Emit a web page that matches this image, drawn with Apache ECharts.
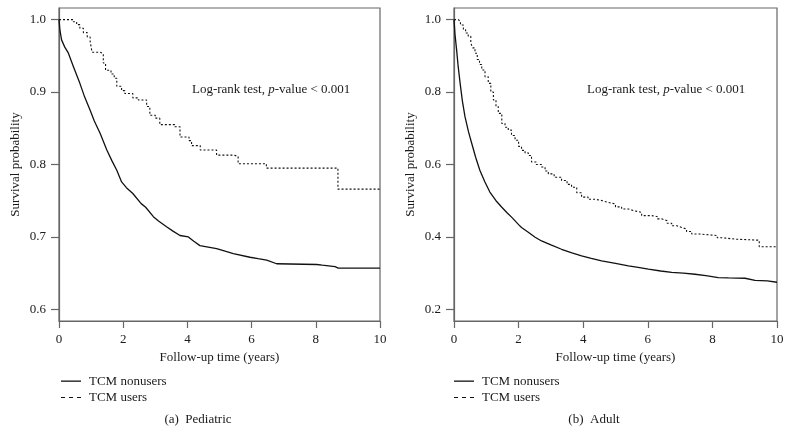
<!DOCTYPE html>
<html>
<head>
<meta charset="utf-8">
<script src="https://cdn.jsdelivr.net/npm/echarts@6.0.0/dist/echarts.min.js"></script>
<style>
html,body{margin:0;padding:0;background:#fff;}
#chart{width:792px;height:446px;}
</style>
</head>
<body>
<div id="chart"></div>
<script>
// ---------------- data ----------------
const seriesNames = ['TCM nonusers', 'TCM users'];
const xTicks = [0, 2, 4, 6, 8, 10];
const pedTicks = [0.6, 0.7, 0.8, 0.9, 1.0];
const adultTicks = [0.2, 0.4, 0.6, 0.8, 1.0];

// (a) Pediatric - TCM nonusers
const pedNonT = [0, 0.03, 0.08, 0.18, 0.29, 0.45, 0.65, 0.8, 0.97, 1.1, 1.28, 1.49, 1.65, 1.8, 1.95, 2.1, 2.3, 2.56, 2.7, 2.94, 3.1, 3.35, 3.55, 3.77, 4.03, 4.2, 4.39, 4.91, 5.2, 5.43, 5.95, 6.2, 6.47, 6.78, 8.03, 8.2, 8.6, 8.7, 10];
const pedNonS = [1.0, 0.985, 0.972, 0.962, 0.954, 0.935, 0.912, 0.893, 0.875, 0.86, 0.843, 0.82, 0.805, 0.792, 0.776, 0.768, 0.76, 0.746, 0.741, 0.728, 0.722, 0.714, 0.708, 0.702, 0.7, 0.694, 0.688, 0.684, 0.68, 0.677, 0.672, 0.67, 0.668, 0.663, 0.662, 0.661, 0.659, 0.657, 0.657];

// (a) Pediatric - TCM users (Kaplan-Meier steps)
const pedUseT = [0, 0.45, 0.55, 0.65, 0.76, 0.88, 0.97, 1.03, 1.28, 1.38, 1.45, 1.62, 1.72, 1.8, 1.95, 2.05, 2.3, 2.47, 2.73, 2.83, 3.0, 3.14, 3.6, 3.77, 4.05, 4.13, 4.4, 4.91, 5.45, 5.58, 6.46, 8.69, 10];
const pedUseS = [1.0, 0.997, 0.993, 0.988, 0.982, 0.976, 0.97, 0.955, 0.953, 0.94, 0.93, 0.925, 0.919, 0.908, 0.902, 0.898, 0.892, 0.889, 0.88, 0.868, 0.864, 0.855, 0.852, 0.838, 0.833, 0.826, 0.82, 0.813, 0.811, 0.801, 0.795, 0.766, 0.766];

// (b) Adult - TCM nonusers
const adNonT = [0, 0.03, 0.08, 0.13, 0.19, 0.26, 0.34, 0.45, 0.55, 0.67, 0.8, 0.95, 1.11, 1.3, 1.48, 1.65, 1.79, 2.0, 2.09, 2.3, 2.5, 2.71, 3.0, 3.33, 3.65, 3.95, 4.25, 4.57, 5.0, 5.4, 5.7, 6.02, 6.4, 6.74, 7.1, 7.46, 7.8, 8.18, 8.5, 9.01, 9.32, 9.7, 10];
const adNonS = [1.0, 0.96, 0.917, 0.87, 0.824, 0.775, 0.732, 0.69, 0.658, 0.62, 0.584, 0.553, 0.524, 0.5, 0.482, 0.466, 0.454, 0.434, 0.426, 0.413, 0.4, 0.389, 0.378, 0.366, 0.356, 0.348, 0.341, 0.334, 0.327, 0.32, 0.316, 0.311, 0.306, 0.302, 0.3, 0.297, 0.293, 0.288, 0.287, 0.286, 0.28, 0.279, 0.275];

// (b) Adult - TCM users (Kaplan-Meier steps)
const adUseT = [0, 0.13, 0.2, 0.29, 0.36, 0.44, 0.52, 0.58, 0.65, 0.72, 0.79, 0.86, 0.96, 1.06, 1.14, 1.22, 1.3, 1.37, 1.48, 1.58, 1.68, 1.78, 1.89, 2.0, 2.09, 2.2, 2.3, 2.4, 2.55, 2.71, 2.82, 2.92, 3.1, 3.33, 3.5, 3.64, 3.8, 3.95, 4.15, 4.37, 4.6, 4.78, 5.0, 5.19, 5.4, 5.6, 5.81, 6.12, 6.3, 6.43, 6.6, 6.74, 6.9, 7.05, 7.2, 7.36, 7.6, 8.15, 8.29, 8.7, 9.45, 10];
const adUseS = [1.0, 0.995, 0.985, 0.972, 0.963, 0.954, 0.935, 0.922, 0.907, 0.89, 0.876, 0.861, 0.842, 0.824, 0.8, 0.778, 0.76, 0.741, 0.713, 0.703, 0.695, 0.68, 0.667, 0.65, 0.639, 0.632, 0.625, 0.607, 0.6, 0.593, 0.582, 0.574, 0.565, 0.556, 0.545, 0.537, 0.522, 0.51, 0.504, 0.5, 0.495, 0.491, 0.483, 0.477, 0.472, 0.468, 0.459, 0.456, 0.45, 0.445, 0.438, 0.431, 0.426, 0.422, 0.415, 0.408, 0.404, 0.398, 0.394, 0.391, 0.373, 0.373];

const logRankText = '{n|Log-rank test, }{i|p}{n|-value < 0.001}';
const captions = ['(a)  Pediatric', '(b)  Adult'];
const xName = 'Follow-up time (years)';
const yName = 'Survival probability';

// ---------------- styling ----------------
const FONT = '"Liberation Serif", "Times New Roman", serif';
const TXT = '#1a1a1a';
const FRAME = '#666666';
const LINE = '#111111';
const ICON_SOLID = 'rect';
const ICON_DASHED = 'path://M0,0h4v1h-4z M8,0h4v1h-4z M16,0h4v1h-4z';

function zip(t, s) { return t.map((v, i) => [v, s[i]]); }

function xAxisFor(idx) {
  return {
    gridIndex: idx, type: 'value', min: 0, max: 10, interval: 2,
    name: xName, nameLocation: 'middle', nameGap: 30,
    nameTextStyle: { fontFamily: FONT, fontSize: 13, color: TXT },
    axisLine: { show: true, lineStyle: { color: FRAME, width: 1.2 } },
    axisTick: { show: true, length: 7, lineStyle: { color: FRAME, width: 1.2 } },
    axisLabel: { margin: 12, fontFamily: FONT, fontSize: 13, color: TXT,
      customValues: xTicks },
    splitLine: { show: false }
  };
}
function yAxisFor(idx, ticks) {
  const lo = ticks[0], hi = ticks[ticks.length - 1];
  const pad = (hi - lo) * 0.04;
  return {
    gridIndex: idx, type: 'value', min: lo - pad, max: hi + pad,
    name: yName, nameLocation: 'middle', nameGap: 37,
    nameTextStyle: { fontFamily: FONT, fontSize: 13, color: TXT },
    axisLine: { show: true, lineStyle: { color: FRAME, width: 1.2 } },
    axisTick: { show: true, length: 8, lineStyle: { color: FRAME, width: 1.2 }, customValues: ticks },
    axisLabel: { margin: 13, fontFamily: FONT, fontSize: 13, color: TXT,
      customValues: ticks, formatter: v => v.toFixed(1) },
    splitLine: { show: false }
  };
}
function lineSeries(name, idx, data, dashed) {
  return {
    name: name, type: 'line', xAxisIndex: idx, yAxisIndex: idx,
    data: data, symbol: 'none', showSymbol: false,
    step: dashed ? 'end' : false,
    lineStyle: { color: LINE, width: dashed ? 1.1 : 1.3, type: dashed ? [2, 2] : 'solid' },
    itemStyle: { color: LINE },
    animation: false
  };
}
function legendFor(left) {
  return {
    left: left, top: 374, orient: 'vertical', padding: 0,
    itemWidth: 20, itemHeight: 1.3, itemGap: 2, selectedMode: false,
    textStyle: { fontFamily: FONT, fontSize: 13, color: TXT, padding: [0, 0, 0, 3], lineHeight: 14.3 },
    data: [
      { name: seriesNames[0], icon: ICON_SOLID, itemStyle: { color: LINE, borderWidth: 0 } },
      { name: seriesNames[1], icon: ICON_DASHED, itemStyle: { color: LINE, borderWidth: 0 } }
    ]
  };
}
function richText(x, y, text) {
  return {
    type: 'text', x: x, y: y,
    style: {
      text: text, textVerticalAlign: 'middle', verticalAlign: 'middle',
      fill: TXT,
      rich: {
        n: { fontFamily: FONT, fontSize: 13, color: TXT },
        i: { fontFamily: FONT, fontSize: 13, fontStyle: 'italic', color: TXT }
      }
    }
  };
}
function caption(x, y, text) {
  return {
    type: 'text', x: x, y: y,
    style: { text: text, textAlign: 'center', align: 'center',
      textVerticalAlign: 'middle', verticalAlign: 'middle',
      font: '13px ' + FONT, fill: TXT }
  };
}

const chart = echarts.init(document.getElementById('chart'), null, { renderer: 'canvas' });
chart.setOption({
  animation: false,
  backgroundColor: '#ffffff',
  grid: [
    { left: 59, right: 412, top: 8, bottom: 125, show: true, borderColor: FRAME, borderWidth: 1.2 },
    { left: 454, right: 15, top: 8, bottom: 125, show: true, borderColor: FRAME, borderWidth: 1.2 }
  ],
  xAxis: [xAxisFor(0), xAxisFor(1)],
  yAxis: [yAxisFor(0, pedTicks), yAxisFor(1, adultTicks)],
  legend: [legendFor(61), legendFor(454)],
  series: [
    lineSeries(seriesNames[0], 0, zip(pedNonT, pedNonS), false),
    lineSeries(seriesNames[1], 0, zip(pedUseT, pedUseS), true),
    lineSeries(seriesNames[0], 1, zip(adNonT, adNonS), false),
    lineSeries(seriesNames[1], 1, zip(adUseT, adUseS), true)
  ],
  graphic: [
    richText(192, 90, logRankText),
    richText(587, 90, logRankText),
    caption(198, 420, captions[0]),
    caption(594, 420, captions[1])
  ]
});
</script>
</body>
</html>
